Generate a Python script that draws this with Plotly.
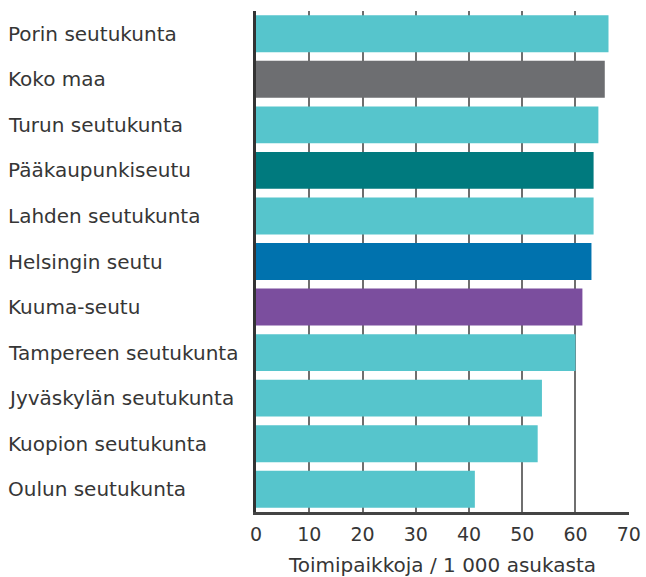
import plotly.graph_objects as go

categories = ["Porin seutukunta", "Koko maa", "Turun seutukunta", "Pääkaupunkiseutu",
              "Lahden seutukunta", "Helsingin seutu", "Kuuma-seutu", "Tampereen seutukunta",
              "Jyväskylän seutukunta", "Kuopion seutukunta", "Oulun seutukunta"]
values = [66.2, 65.5, 64.3, 63.4, 63.4, 63.0, 61.3, 60.0, 53.7, 52.9, 41.1]
colors = ["#56C5CC", "#6D6E71", "#56C5CC", "#007A7E", "#56C5CC", "#0072AE",
          "#7B4E9E", "#56C5CC", "#56C5CC", "#56C5CC", "#56C5CC"]
x_ticks = [0, 10, 20, 30, 40, 50, 60, 70]
x_title = "Toimipaikkoja / 1 000 asukasta"

FONT = "DejaVu Sans"
TXT = "#363636"

fig = go.Figure(go.Bar(
    x=values, y=categories, orientation="h",
    marker=dict(color=colors, line=dict(width=0)),
    width=0.81,
))

for c in categories:
    fig.add_annotation(x=-250/373, xref="paper", y=c, yref="y", text=c,
                       showarrow=False, xanchor="left", yanchor="middle",
                       font=dict(family=FONT, size=20, color=TXT))

fig.update_layout(
    width=646, height=577,
    margin=dict(l=256, r=17, t=11, b=65, autoexpand=False),
    plot_bgcolor="white", paper_bgcolor="white",
    showlegend=False,
    font=dict(family=FONT, size=19, color=TXT),
)
fig.update_xaxes(
    range=[0, 70.05], tickvals=x_ticks, ticktext=[str(t) for t in x_ticks],
    showgrid=True, gridcolor="#6f6f6f", gridwidth=1.5,
    zeroline=False, automargin=False,
    showline=True, linecolor="#444444", linewidth=2.5,
    ticks="outside", ticklen=3, tickcolor="rgba(0,0,0,0)",
    tickfont=dict(family=FONT, size=19, color=TXT),
    title=dict(text=x_title, font=dict(family=FONT, size=20, color=TXT), standoff=20),
)
fig.update_yaxes(
    autorange="reversed", showticklabels=False, showgrid=False, automargin=False,
    showline=True, linecolor="#333333", linewidth=3, zeroline=False,
    range=[10.5, -0.5],
)

fig.write_html("out.html", config={"displayModeBar": False},
               post_script="document.body.style.margin='0';")
